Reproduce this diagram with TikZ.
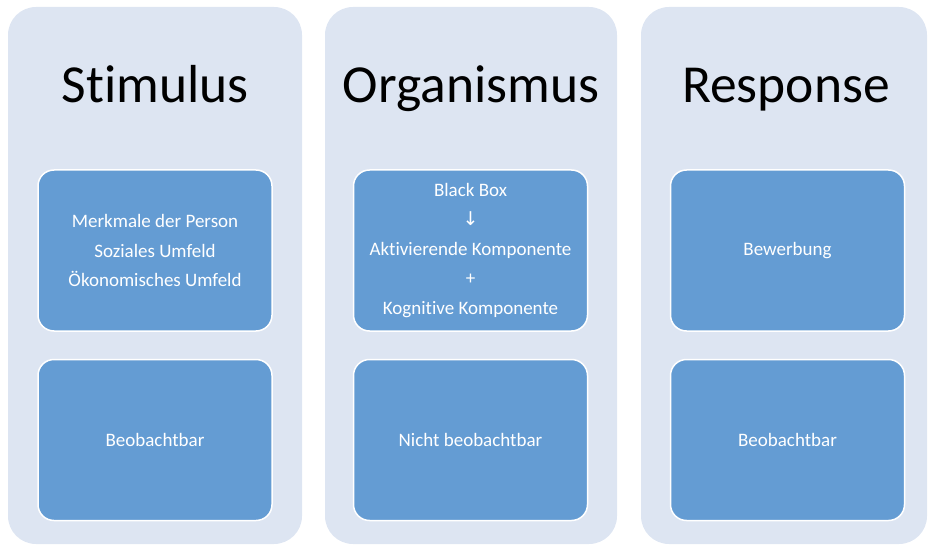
\documentclass[tikz,border=0pt]{standalone}
\usepackage{fontspec}
\setmainfont{Carlito}[Ligatures=NoCommon]
\newfontfamily\arrowfont{DejaVu Sans}
\usetikzlibrary{positioning}
\definecolor{colbg}{HTML}{DDE5F2}
\definecolor{boxblue}{HTML}{649CD3}
\tikzset{
  col/.style ={rectangle, rounded corners=28pt, fill=colbg, inner sep=0pt,
               minimum height=537pt},
  ttl/.style ={anchor=base, font=\fontsize{53.5}{60}\selectfont, text=black},
  blk/.style ={rectangle, rounded corners=16pt, draw=white, line width=1.5pt,
               fill=boxblue, text=white, align=center,
               font=\fontsize{19}{29.5}\selectfont,
               minimum width=234pt, minimum height=161pt, inner sep=2pt}
}
\begin{document}
\begin{tikzpicture}[x=1pt, y=-1pt, node distance=27pt]
  \useasboundingbox (0,0) rectangle (928,545);
  % columns
  \node[col, minimum width=294pt] (c1) at (155,275.5) {};
  \node[col, minimum width=292pt] (c2) at (471,275.5) {};
  \node[col, minimum width=286pt] (c3) at (784,275.5) {};

  % titles
  \node[ttl] (t1) at (155,103) {Stimulus};
  \node[ttl] (t2) at (471,103) {Organismus};
  \node[ttl] (t3) at (786,103) {Response};

  % boxes
  \node[blk] (s1) at (155,250.5) {Merkmale der Person\\Soziales Umfeld\\Ökonomisches Umfeld};
  \node[blk, below=of s1] (s2) {Beobachtbar};
  \node[blk] (o1) at (470.5,250.5) {Black Box\\{\arrowfont ↓}\\Aktivierende Komponente\\+\\Kognitive Komponente};
  \node[blk, below=of o1] (o2) {Nicht beobachtbar};
  \node[blk] (r1) at (787.5,250.5) {Bewerbung};
  \node[blk, below=of r1] (r2) {Beobachtbar};
\end{tikzpicture}
\end{document}
